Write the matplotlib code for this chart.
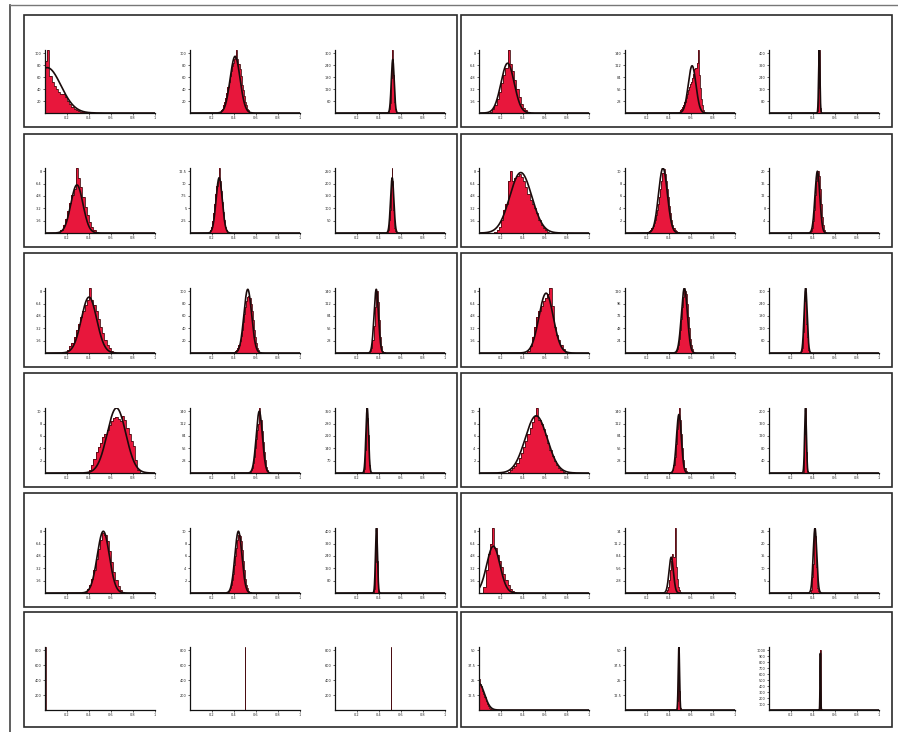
import numpy as np
import matplotlib
matplotlib.use('Agg')
import matplotlib.pyplot as plt
from matplotlib.patches import Rectangle
from matplotlib.lines import Line2D

# 6 rows x 2 panels x 3 histograms, stored row by row (left panel a,b,c then right panel a,b,c)
hist_lo = [
    0.00, 0.27, 0.49,   0.10, 0.49, 0.44,
    0.12, 0.17, 0.48,   0.14, 0.20, 0.37,
    0.18, 0.40, 0.31,   0.44, 0.45, 0.29,
    0.40, 0.54, 0.26,   0.26, 0.42, 0.31,
    0.36, 0.34, 0.355,  0.04, 0.37, 0.38,
    0.00, 0.50, 0.505,  0.00, 0.47, 0.465,
]
hist_step = [
    0.02, 0.01, 0.005,  0.02, 0.01, 0.004,
    0.02, 0.01, 0.005,  0.02, 0.01, 0.01,
    0.02, 0.01, 0.01,   0.02, 0.01, 0.005,
    0.02, 0.01, 0.005,  0.02, 0.01, 0.004,
    0.02, 0.01, 0.004,  0.02, 0.01, 0.005,
    0.005, 0.004, 0.004, 0.01, 0.004, 0.003,
]
hist_heights = [
    # row 1 left
    [0.82, 1.0, 0.58, 0.5, 0.43, 0.38, 0.33, 0.3, 0.3, 0.25, 0.19, 0.14, 0.1, 0.07, 0.05, 0.03, 0.02, 0.01, 0.005],
    [0.02, 0.04, 0.07, 0.12, 0.17, 0.24, 0.32, 0.42, 0.5, 0.58, 0.67, 0.75, 0.8, 0.85, 0.9, 1.0, 0.85, 0.78,
     0.7, 0.58, 0.45, 0.36, 0.27, 0.18, 0.12, 0.07, 0.04, 0.02],
    [0.03, 0.07, 0.16, 0.32, 0.55, 0.78, 1.0, 0.82, 0.6, 0.35, 0.17, 0.07, 0.03, 0.01],
    # row 1 right
    [0.02, 0.06, 0.12, 0.22, 0.33, 0.47, 0.6, 0.72, 1.0, 0.78, 0.66, 0.52, 0.38, 0.25, 0.15, 0.08, 0.04, 0.02],
    [0.02, 0.04, 0.06, 0.09, 0.13, 0.18, 0.24, 0.3, 0.36, 0.42, 0.46, 0.5, 0.55, 0.62, 0.7, 0.72, 0.8, 1.0,
     0.6, 0.4, 0.22, 0.12, 0.05, 0.02],
    [0.03, 0.12, 0.4, 0.82, 1.0, 0.7, 0.3, 0.08, 0.02],
    # row 2 left
    [0.02, 0.05, 0.12, 0.22, 0.34, 0.46, 0.58, 0.68, 1.0, 0.85, 0.7, 0.55, 0.4, 0.27, 0.17, 0.1, 0.05, 0.02],
    [0.02, 0.05, 0.1, 0.18, 0.3, 0.45, 0.6, 0.72, 0.82, 1.0, 0.8, 0.65, 0.48, 0.32, 0.2, 0.1, 0.05, 0.02],
    [0.02, 0.05, 0.1, 0.2, 0.35, 0.55, 0.75, 1.0, 0.8, 0.55, 0.35, 0.18, 0.08, 0.03, 0.01],
    # row 2 right
    [0.02, 0.05, 0.1, 0.2, 0.35, 0.45, 0.8, 0.95, 0.8, 0.85, 0.87, 0.9, 0.86, 0.8, 0.7, 0.6, 0.5, 0.44,
     0.38, 0.3, 0.2, 0.12, 0.07, 0.04, 0.02],
    [0.01, 0.02, 0.03, 0.05, 0.08, 0.11, 0.15, 0.2, 0.27, 0.35, 0.45, 0.55, 0.68, 0.8, 0.92, 0.98, 0.9, 0.8,
     0.68, 0.55, 0.42, 0.3, 0.2, 0.13, 0.08, 0.05, 0.03, 0.02, 0.01],
    [0.01, 0.03, 0.07, 0.18, 0.35, 0.58, 0.8, 0.95, 0.88, 0.68, 0.45, 0.25, 0.12, 0.05, 0.02],
    # row 3 left
    [0.02, 0.05, 0.1, 0.16, 0.25, 0.35, 0.45, 0.55, 0.65, 0.74, 0.82, 1.0, 0.82, 0.74, 0.64, 0.52, 0.4, 0.3,
     0.2, 0.12, 0.07, 0.03, 0.01],
    [0.02, 0.03, 0.05, 0.08, 0.12, 0.18, 0.26, 0.36, 0.48, 0.6, 0.7, 0.8, 0.86, 0.88, 0.84, 0.76, 0.64, 0.5,
     0.36, 0.24, 0.15, 0.08, 0.04, 0.02],
    [0.01, 0.03, 0.08, 0.2, 0.42, 0.7, 0.9, 0.95, 0.78, 0.5, 0.25, 0.1, 0.03, 0.01],
    # row 3 right
    [0.03, 0.1, 0.25, 0.4, 0.55, 0.65, 0.72, 0.8, 0.85, 0.9, 1.0, 0.72, 0.4, 0.28, 0.2, 0.12, 0.06, 0.02],
    [0.01, 0.03, 0.06, 0.12, 0.22, 0.35, 0.52, 0.7, 0.86, 0.96, 0.9, 0.75, 0.56, 0.38, 0.22, 0.12, 0.06, 0.02],
    [0.01, 0.03, 0.07, 0.16, 0.32, 0.55, 0.8, 0.97, 0.93, 0.72, 0.45, 0.24, 0.1, 0.04, 0.01],
    # row 4 left
    [0.05, 0.12, 0.22, 0.32, 0.4, 0.46, 0.55, 0.6, 0.66, 0.74, 0.8, 0.84, 0.86, 0.83, 0.8, 0.88, 0.82, 0.7,
     0.6, 0.5, 0.42, 0.2, 0.05],
    [0.02, 0.04, 0.08, 0.15, 0.25, 0.38, 0.52, 0.66, 0.76, 1.0, 0.82, 0.65, 0.48, 0.32, 0.2, 0.1, 0.05, 0.02],
    [0.02, 0.06, 0.15, 0.35, 0.62, 0.88, 1.0, 0.85, 0.58, 0.3, 0.12, 0.04, 0.01],
    # row 4 right
    [0.02, 0.04, 0.07, 0.11, 0.16, 0.23, 0.31, 0.4, 0.5, 0.6, 0.7, 0.78, 0.88, 1.0, 0.82, 0.76, 0.68, 0.58,
     0.46, 0.36, 0.26, 0.18, 0.12, 0.07, 0.04, 0.02],
    [0.02, 0.05, 0.12, 0.25, 0.45, 0.68, 0.85, 1.0, 0.82, 0.6, 0.38, 0.2, 0.08, 0.03],
    [0.02, 0.08, 0.25, 0.6, 0.95, 1.0, 0.7, 0.32, 0.1, 0.03, 0.01],
    # row 5 left
    [0.02, 0.06, 0.12, 0.22, 0.36, 0.52, 0.68, 0.82, 0.92, 0.9, 0.8, 0.64, 0.48, 0.33, 0.2, 0.11, 0.05, 0.02],
    [0.02, 0.04, 0.07, 0.12, 0.2, 0.3, 0.43, 0.57, 0.7, 0.82, 0.9, 0.88, 0.8, 0.66, 0.5, 0.35, 0.22, 0.13,
     0.07, 0.03, 0.01],
    [0.02, 0.06, 0.2, 0.48, 0.82, 1.0, 0.85, 0.5, 0.2, 0.06, 0.02],
    # row 5 right
    [0.1, 0.35, 0.6, 0.75, 1.0, 0.7, 0.58, 0.5, 0.4, 0.3, 0.2, 0.12, 0.06, 0.03],
    [0.02, 0.05, 0.1, 0.2, 0.35, 0.5, 0.6, 0.55, 1.0, 0.4, 0.22, 0.1, 0.04, 0.01],
    [0.02, 0.05, 0.12, 0.25, 0.45, 0.7, 0.9, 1.0, 0.88, 0.65, 0.4, 0.2, 0.08, 0.03, 0.01],
    # row 6 left
    [1.0],
    [1.0],
    [1.0],
    # row 6 right
    [0.5, 0.42, 0.38, 0.3, 0.25, 0.2, 0.15, 0.1, 0.06, 0.03, 0.02, 0.01, 0.005],
    [0.04, 0.15, 0.45, 0.85, 1.0, 0.7, 0.3, 0.1, 0.03],
    [0.1, 0.95, 0.3, 0.05],
]
# fitted normal curve: mean, sd, peak height (None = no curve)
fit_mu = [0.02, 0.41, 0.525, 0.26, 0.61, 0.457,
          0.29, 0.265, 0.52, 0.38, 0.345, 0.44,
          0.40, 0.525, 0.375, 0.61, 0.54, 0.333,
          0.65, 0.63, 0.293, 0.52, 0.49, 0.332,
          0.53, 0.44, 0.377, 0.13, 0.42, 0.418,
          None, None, None, 0.0, 0.49, 0.467]
fit_sd = [0.125, 0.045, 0.013, 0.06, 0.035, 0.006,
          0.055, 0.028, 0.015, 0.1, 0.04, 0.022,
          0.07, 0.035, 0.02, 0.065, 0.027, 0.014,
          0.085, 0.028, 0.012, 0.1, 0.022, 0.008,
          0.055, 0.032, 0.009, 0.06, 0.02, 0.016,
          None, None, None, 0.05, 0.006, 0.003]
fit_peak = [0.72, 0.9, 0.85, 0.79, 0.75, 1.0,
            0.74, 0.85, 0.85, 0.93, 1.0, 0.95,
            0.86, 0.98, 0.98, 0.92, 1.0, 1.0,
            1.0, 0.95, 1.0, 0.88, 0.9, 1.0,
            0.95, 0.95, 1.0, 0.72, 0.55, 1.0,
            None, None, None, 0.42, 1.0, 0.9]
# top value of each y axis (count units, only used for tick labels)
y_top = [100, 100, 300, 8, 140, 400,
         8, 12.5, 250, 8, 10, 20,
         8, 100, 140, 8, 120, 300,
         10, 140, 350, 10, 140, 200,
         8, 10, 400, 8, 14, 25,
         800, 800, 800, 50, 50, 1000]
y_nticks = [5] * 30 + [4, 4, 4, 4, 4, 10]
x_ticks = [0.2, 0.4, 0.6, 0.8, 1.0]
x_labels = ['0.2', '0.4', '0.6', '0.8', '1']

W, H = 898, 732
fig = plt.figure(figsize=(W / 100, H / 100), dpi=100)


def box(x0, y0, x1, y1, lw=1.2, color='#2b2b2b'):
    fig.add_artist(Rectangle((x0 / W, 1 - y1 / H), (x1 - x0) / W, (y1 - y0) / H,
                             transform=fig.transFigure, fill=False, lw=lw, ec=color))


# outer frame lines of the scanned page
fig.add_artist(Line2D([10 / W, 10 / W], [0, 1 - 5 / H], transform=fig.transFigure, color='#444', lw=1.2))
fig.add_artist(Line2D([10 / W, 1], [1 - 5 / H, 1 - 5 / H], transform=fig.transFigure, color='#777', lw=1.0))

row_top = [15, 134, 253, 373, 493, 612]
row_bot = [127, 247, 367, 487, 607, 727]
ax_top = [50, 168, 288, 408, 528, 647]
ax_bot = [113, 233, 353, 473, 593, 710]
col_box = [(24, 457), (461, 892)]
ax_left = [[45, 190, 335], [479, 625, 769]]
ax_w = 110

red = '#e8173c'
dark = '#4a0d12'

for r in range(6):
    for c in range(2):
        box(col_box[c][0], row_top[r], col_box[c][1], row_bot[r])
        for s in range(3):
            i = r * 6 + c * 3 + s
            x0 = ax_left[c][s]
            ax = fig.add_axes([x0 / W, 1 - ax_bot[r] / H, ax_w / W, (ax_bot[r] - ax_top[r]) / H])
            h = np.array(hist_heights[i])
            edges = hist_lo[i] + hist_step[i] * np.arange(len(h) + 1)
            ax.stairs(h, edges, fill=True, color=red, lw=0)
            ax.stairs(h, edges, color=dark, lw=0.6)
            if fit_mu[i] is not None:
                xx = np.linspace(0, 1, 3000)
                yy = fit_peak[i] * np.exp(-0.5 * ((xx - fit_mu[i]) / fit_sd[i]) ** 2)
                ax.plot(xx, yy, color='#1a0b0b', lw=1.2)
            ax.set_xlim(0, 1)
            ax.set_ylim(0, 1.0)
            for sp in ('top', 'right'):
                ax.spines[sp].set_visible(False)
            for sp in ('left', 'bottom'):
                ax.spines[sp].set_linewidth(0.9)
                ax.spines[sp].set_color('#111')
            ax.set_xticks(x_ticks)
            ax.set_xticklabels(x_labels)
            n = y_nticks[i]
            yt = np.arange(1, n + 1) / n * 0.95
            ax.set_yticks(yt)
            ax.set_yticklabels(['%g' % round(v * y_top[i] / 0.95, 2) for v in yt])
            ax.tick_params(labelsize=2.5, length=1.5, width=0.5, pad=1, colors='#222')
            ax.patch.set_alpha(0)

fig.savefig('out.png', dpi=100, facecolor='white')
